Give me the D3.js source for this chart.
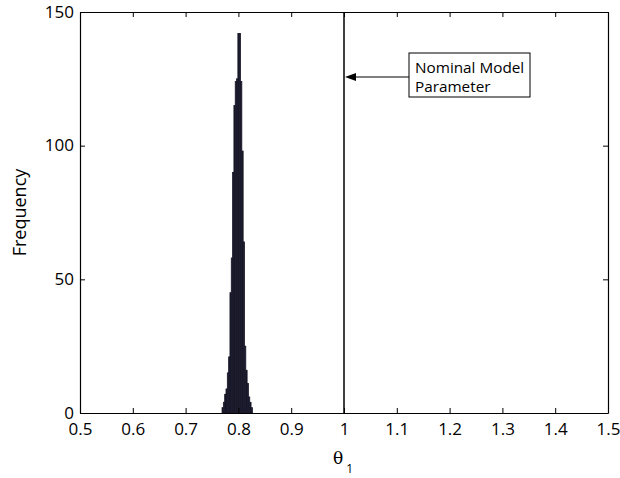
<!DOCTYPE html>
<html lang="en">
<head>
<meta charset="UTF-8">
<title>Histogram theta1</title>
<style>
  body { margin: 0; background: #fff; }
  text { font-family: "Open Sans", "Noto Sans", sans-serif; fill: #000; }
</style>
</head>
<body>
<div id="chart"></div>
<script src="https://cdn.jsdelivr.net/npm/d3@7"></script>
<script>
// histogram bins (left edge of each bin) and their counts
const binStart = [0.7690, 0.7715, 0.7740, 0.7765, 0.7790, 0.7815, 0.7840, 0.7865,
                  0.7890, 0.7915, 0.7940, 0.7965, 0.7990, 0.8015, 0.8040, 0.8065,
                  0.8090, 0.8115, 0.8140, 0.8165, 0.8190, 0.8215, 0.8240];
const binWidth = 0.0025;
const counts = [2, 4, 7, 9, 15, 21, 45, 58, 90, 115, 124, 125, 142, 142, 124, 98,
                64, 25, 16, 11, 6, 4, 2];
const xTicks = [0.5, 0.6, 0.7, 0.8, 0.9, 1, 1.1, 1.2, 1.3, 1.4, 1.5];
const yTicks = [0, 50, 100, 150];
const nominal = 1.0;
const noteLines = ["Nominal Model", "Parameter"];

const W = 620, H = 478;
const margin = { top: 12, right: 12, bottom: 65, left: 80 };
const width = W - margin.left - margin.right;
const height = H - margin.top - margin.bottom;

const svg = d3.select("#chart").append("svg")
    .attr("width", W).attr("height", H);

const g = svg.append("g")
    .attr("transform", `translate(${margin.left},${margin.top})`);

const x = d3.scaleLinear().domain([0.5, 1.5]).range([0, width]);
const y = d3.scaleLinear().domain([0, 150]).range([height, 0]);

// bars
g.selectAll(".bar")
    .data(counts)
    .enter().append("rect")
    .attr("class", "bar")
    .attr("x", (d, i) => x(binStart[i]))
    .attr("width", (d, i) => x(binStart[i] + binWidth) - x(binStart[i]))
    .attr("y", d => y(d))
    .attr("height", d => y(0) - y(d))
    .attr("fill", "#18182a")
    .attr("stroke", "#18182a")
    .attr("stroke-width", 0.8);

// axes, ticks pointing inward
const tickLen = 5;
const axBottom = g.append("g")
    .attr("transform", `translate(0,${height})`)
    .call(d3.axisBottom(x).tickValues(xTicks).tickSizeInner(-tickLen).tickSizeOuter(0)
        .tickPadding(13).tickFormat(d3.format("")));
const axLeft = g.append("g")
    .call(d3.axisLeft(y).tickValues(yTicks).tickSizeInner(-tickLen).tickSizeOuter(0)
        .tickPadding(6));
const axTop = g.append("g")
    .call(d3.axisTop(x).tickValues(xTicks).tickSizeInner(-tickLen).tickSizeOuter(0)
        .tickFormat(""));
const axRight = g.append("g")
    .attr("transform", `translate(${width},0)`)
    .call(d3.axisRight(y).tickValues(yTicks).tickSizeInner(-tickLen).tickSizeOuter(0)
        .tickFormat(""));

[axBottom, axLeft, axTop, axRight].forEach(a => {
    a.select(".domain").attr("stroke", "#000").attr("stroke-width", 1.2);
    a.selectAll(".tick line").attr("stroke", "#000");
    a.selectAll(".tick text")
        .attr("fill", "#000")
        .style("font-size", "17px")
        .style("font-family", "'Open Sans', sans-serif");
});
axBottom.selectAll(".tick text").attr("dy", "0.55em");
axLeft.selectAll(".tick text").attr("dy", "0.3em");

// nominal parameter line
g.append("line")
    .attr("x1", x(nominal)).attr("x2", x(nominal))
    .attr("y1", 0).attr("y2", height)
    .attr("stroke", "#000").attr("stroke-width", 1.5);

// annotation box + arrow
const boxX = 329, boxY = 41, boxW = 121, boxH = 44;
g.append("rect")
    .attr("x", boxX).attr("y", boxY)
    .attr("width", boxW).attr("height", boxH)
    .attr("fill", "#fff").attr("stroke", "#000").attr("stroke-width", 1);
g.selectAll(".note")
    .data(noteLines)
    .enter().append("text")
    .attr("class", "note")
    .attr("x", boxX + 6)
    .attr("y", (d, i) => boxY + 20 + i * 19)
    .style("font-size", "15.3px")
    .text(d => d);

const arrowY = 65;
const tipX = x(nominal) + 1;
g.append("line")
    .attr("x1", boxX).attr("x2", tipX + 8)
    .attr("y1", arrowY).attr("y2", arrowY)
    .attr("stroke", "#000").attr("stroke-width", 1);
g.append("path")
    .attr("d", `M${tipX},${arrowY} L${tipX + 11},${arrowY - 4} L${tipX + 11},${arrowY + 4} Z`)
    .attr("fill", "#000");

// axis labels
svg.append("text")
    .attr("transform", `translate(26,${margin.top + height / 2}) rotate(-90)`)
    .attr("text-anchor", "middle")
    .style("font-size", "18px")
    .text("Frequency");

const xl = svg.append("text")
    .attr("x", 333)
    .attr("y", 464)
    .style("font-size", "17px");
xl.append("tspan").style("font-family", "'DejaVu Serif', serif").text("θ");
xl.append("tspan").attr("dx", 3).attr("dy", 9).style("font-size", "12px").text("1");
</script>
</body>
</html>
